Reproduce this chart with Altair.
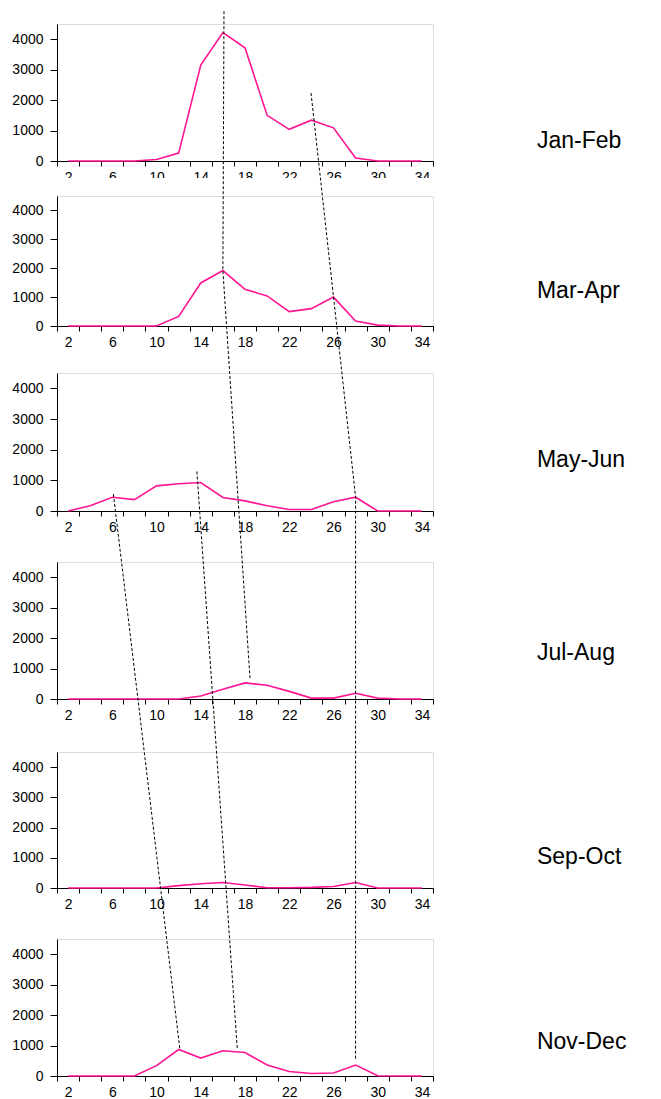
import altair as alt
import pandas as pd

# ---------------- data ----------------
xs = list(range(2, 36, 2))  # 2 .. 34
panel_labels = ["Jan-Feb", "Mar-Apr", "May-Jun", "Jul-Aug", "Sep-Oct", "Nov-Dec"]
jan_feb = [0, 0, 0, 0, 50, 260, 3150, 4220, 3720, 1500, 1040, 1340, 1090, 100, 0, 0, 0]
mar_apr = [0, 0, 0, 0, 0, 330, 1490, 1920, 1270, 1040, 500, 600, 1000, 170, 30, 0, 0]
may_jun = [0, 170, 450, 370, 820, 890, 930, 440, 330, 170, 50, 50, 300, 450, 0, 0, 0]
jul_aug = [0, 0, 0, 0, 0, 0, 100, 320, 530, 450, 250, 30, 30, 190, 30, 0, 0]
sep_oct = [0, 0, 0, 0, 0, 80, 140, 180, 100, 10, 10, 20, 50, 180, 0, 0, 0]
nov_dec = [0, 0, 0, 0, 340, 870, 590, 830, 770, 360, 150, 80, 100, 360, 10, 0, 0]
series = [jan_feb, mar_apr, may_jun, jul_aug, sep_oct, nov_dec]
x_tick_values = list(range(1, 36, 2))        # category boundaries
x_label_values = list(range(2, 35, 4))       # 2, 6, ..., 34
y_tick_values = [0, 1000, 2000, 3000, 4000]

# dashed guide lines: vertices given as (panel, x, value in that panel)
dash_id = ["A", "A", "A", "B", "B", "B", "C", "C", "D", "D"]
dash_panel = [0, 1, 3, 0, 2, 5, 2, 5, 2, 5]
dash_x = [16.1, 16.0, 18.45, 23.97, 28.0, 28.0, 6.1, 12.1, 13.65, 17.3]
dash_v = [4920, 1920, 690, 2230, 460, 520, 550, 910, 1290, 910]

# ---------------- layout / style ----------------
W = 376
TOPS = [24, 196, 373, 562, 752, 939]
HEIGHTS = [137, 130, 138, 137, 136, 137]
YMAX = 4500
SPACING = 8
LABEL_X = 44.4
LABEL_V = [657, 1212, 1663, 1511, 1026, 1117]
COVER_PX = 18
PINK = "#FF1493"
FONT = "Liberation Sans"


def to_px(p, v):
    return TOPS[p] + HEIGHTS[p] * (1 - v / YMAX)


def to_last(y):
    return YMAX * (TOPS[5] + HEIGHTS[5] - y) / HEIGHTS[5]


xscale = alt.Scale(domain=[1, 35], nice=False, zero=False)
yscale = alt.Scale(domain=[0, YMAX], nice=False, zero=False)

tick_axis = alt.Axis(
    orient="bottom", values=x_tick_values, labels=False, tickSize=5, grid=False,
    domainColor="black", tickColor="black", title=None,
)
label_axis = alt.Axis(
    orient="bottom", values=x_label_values, ticks=False, tickSize=0, domain=False,
    labelPadding=9, grid=False, labelColor="black", labelFontSize=14, labelFont=FONT,
    labelOverlap=False, labelFlush=False, labelBound=False, format="d", title=None,
)
yaxis = alt.Axis(
    values=y_tick_values, format="d", tickSize=7, labelPadding=7, grid=False,
    domainColor="black", tickColor="black", labelColor="black",
    labelFontSize=14, labelFont=FONT, labelOverlap=False, labelFlush=False,
    labelBound=False, title=None,
)


def Y(field="v:Q"):
    return alt.Y(field, scale=yscale, axis=yaxis)


def panel(i):
    df = pd.DataFrame({"x": xs, "v": series[i]})
    line = alt.Chart(df).mark_line(color=PINK, strokeWidth=1.6).encode(
        x=alt.X("x:Q", scale=xscale, axis=tick_axis),
        y=Y(),
    )
    lab_df = pd.DataFrame({"x": [LABEL_X], "v": [LABEL_V[i]], "t": [panel_labels[i]]})
    lab = alt.Chart(lab_df).mark_text(
        align="left", baseline="middle", fontSize=23, font=FONT, color="black"
    ).encode(
        x=alt.X("x:Q", scale=xscale, axis=label_axis),
        y=Y(),
        text="t:N",
    )
    layers = [line, lab]
    if i == 1:
        cov = pd.DataFrame({"x": [1], "x2": [35], "v": [YMAX],
                            "v2": [YMAX + COVER_PX / HEIGHTS[1] * YMAX]})
        cover = alt.Chart(cov).mark_rect(color="white", clip=False).encode(
            x=alt.X("x:Q", scale=xscale, axis=None), x2="x2:Q",
            y=Y(), y2="v2:Q",
        )
        layers = [cover] + layers
    if i == 5:
        rows = []
        for k in range(len(dash_id)):
            rows.append({
                "id": dash_id[k], "o": k, "x": dash_x[k],
                "v": to_last(to_px(dash_panel[k], dash_v[k])),
            })
        ddf = pd.DataFrame(rows)
        dash = alt.Chart(ddf).mark_line(
            color="black", strokeWidth=1, strokeDash=[3, 2], clip=False
        ).encode(
            x=alt.X("x:Q", scale=xscale, axis=None), y=Y(),
            detail="id:N", order="o:Q",
        )
        layers = layers + [dash]
    return alt.layer(*layers).resolve_axis(x="independent").properties(
        width=W, height=HEIGHTS[i]
    )


def spacer(h):
    sdf = pd.DataFrame({"a": [0]})
    return alt.Chart(sdf).mark_point(opacity=0).encode(
        x=alt.X("a:Q", axis=None), y=alt.Y("a:Q", axis=None)
    ).properties(width=W, height=h, view=alt.ViewBackground(stroke="transparent"))


items = []
for i in range(6):
    items.append(panel(i))
    if i < 5:
        gap = TOPS[i + 1] - TOPS[i] - HEIGHTS[i]
        items.append(spacer(gap - 2 * SPACING))

chart = alt.vconcat(*items, spacing=SPACING, bounds="flush").properties(
    padding={"top": 0, "left": 3, "right": 5, "bottom": 0}
).configure_view(stroke="#7a7a7a", strokeWidth=1).configure(background="white")

chart.save("out.html", embed_options={"renderer": "svg", "actions": False})
